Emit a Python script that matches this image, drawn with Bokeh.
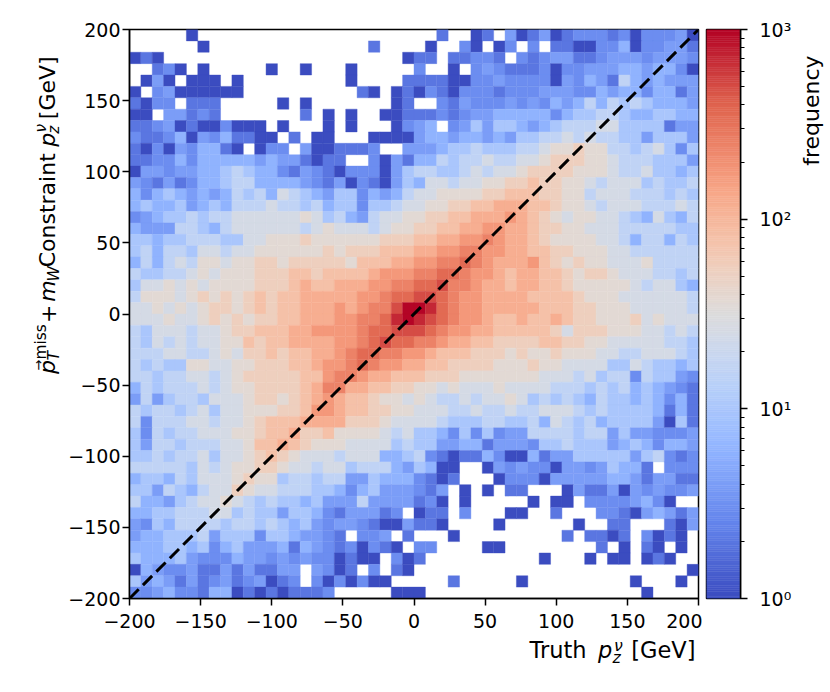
import math
from bokeh.plotting import figure
from bokeh.models import Range1d, FixedTicker, Label, ColumnDataSource, LogColorMapper
from bokeh.layouts import row, column
from bokeh.embed import file_html
from bokeh.resources import INLINE

# ---------------- data ----------------
x_edges = list(range(-200, 201, 8))          # 50 bins of 8 GeV
y_edges = list(range(-200, 201, 8))
tick_vals = [-200, -150, -100, -50, 0, 50, 100, 150, 200]
tick_labels = ["\u2212200", "\u2212150", "\u2212100", "\u221250", "0", "50", "100", "150", "200"]
cbar_ticks = [1, 10, 100, 1000]
cbar_labels = ["10\u2070", "10\u00b9", "10\u00b2", "10\u00b3"]
cbar_minor = [2, 3, 4, 5, 6, 7, 8, 9, 20, 30, 40, 50, 60, 70, 80, 90,
              200, 300, 400, 500, 600, 700, 800, 900]
diag_x = [-200, 200]
diag_y = [-200, 200]

# cell code -> bin count ('.' = empty bin)
level_chars = ".12345abcdefghijklm"
level_counts = [0, 1, 2, 3, 4, 6, 10, 16, 25, 37, 55, 80, 120, 175, 250, 360, 500, 720, 1000]

# rows from top (y = 192..200) to bottom (y = -200..-192), columns from x = -200
hist_rows = [
    ".....1..........." "..........2..12.4" "1241233323133341",
    "......1.........." "....2....1..31.13" ".3.2211335133442",
    "121.............." ".......122.22332." "3234422344434443",
    "..231.1.....1..1." "..1.....3..1.3432" "2231334445545531",
    ".141.111.1......." "..1....2222113343" "333143542b545444",
    "1.34111111......." "...21.12132133323" "3344433545535524",
    "2133.222.....1.1." "......12..3243334" "343545b5baba5554",
    "11.44232.......2." "1.1..112223234455" "55535aabba55aa55",
    "223412113111.1..." "1.1...1345.34a4aa" "545abbbccaaaa244",
    "3223514352211.2.1" "1...1111455455454" "aabbcbcbbaa4aaa4",
    "2131435521.133.41" "12223..4445aabaaa" "bbcddeddbbabca3a",
    "22335355555454421" "22..314255babbcbb" "ccdeeeddcbbbaaa4",
    "14434455aba553243" "2133314abbaabcbcc" "deeeedddcbbcaa5a",
    "43242355abb555543" "2413214a5ccbccdde" "efeeddcbcccabaab",
    "535a54545bab5cba5" "4aa3545bccddddeef" "ffeeddbcccbbbaba",
    "5a55a45a5bbbcbbab" "5aa3aabccddeeffgg" "gffeddcbcccbbbcb",
    "345aababbccccccdc" "ab54bccddeeffgggh" "gfedcddccba5ca5b",
    "5444bba5bccccccbc" "dcccbcddeeffgghhg" "gfeeddcccbbbbbaa",
    "aa5aabbbaaccddded" "dddddeeeffgghhihg" "gfeddddccb5bb5ba",
    "ab5bbaccbccdddddd" "edeeefffgghhiihhg" "gffeedddccbbbbbb",
    "5b5bcbddcddeedeee" "eedfffgghhiijihgg" "ghfededdcccdbbbb",
    "baabbcdcdddeeeffe" "ffffghhhiijjihhgf" "ggffedeedcccbbab",
    "accdcdcddddeeefgf" "fggghhiijjkiihggf" "ggffedddddcbcca5",
    "bdddcdededefeffgg" "ggghhijjkkjihhggg" "gffffedddccccccb",
    "ccdcdcdeedefeffgg" "ghghiikmmljihhggg" "ggfffeedddcccccb",
    "cccdccdededeeffgg" "ghhiijlmlkjihhgff" "gffgfeedddecdccc",
    "bacccbccdeefffggh" "hhhijjkkkjihhggff" "fffeceeedddccbcb",
    "bacbcbccddfeffggg" "ghhijkjjiihggffee" "eeffeeddcccccbba",
    "bbbccbbcdceefeffg" "ghijjiihhgfffeeed" "eddedddccbbcccba",
    "babaaddccddeeeffg" "hhijihhggffeeeedd" "deddccccaacbaa5a",
    "bbabbccbcdeeeeeff" "hiihggfffeeeddddd" "ddcccbcabb3baa43",
    "5babbbcbcddeeeefg" "iiggffeeddcdcccdc" "cccbbbabab5a5432",
    "4b4abbacccdeedefg" "hgffeddcdcbbcbccd" "cababa5baa5a5352",
    "babbabcaccdddeefh" "hgffeeddcccbbcbbc" "bbcccbabaaaa5252",
    "b3bbbccbccdefffgg" "ggeeedccccbaaabba" "ab5cbab5aaaa41a2",
    "a3babbcccddeffgee" "fddddcbcaa53a3a34" "4bbbbabb4a443334",
    "a4bbabbbccdffgfed" "ddccccabaa4455244" "43aabaaa45a53554",
    "aababbcaccdefedcc" "cbccc55ab32122531" "15244aaaaa4ab323",
    "bbbbbacbcddeedccb" "ccabbb54a511..143" "43314434a552.333",
    "5aa5bacccdeddabba" "bb44a5553212...13" "3314444455424422",
    "aa4ba5bccedccbbba" "a535a444324.1.1.2" "2...142241434334",
    "b554abccdcbabaa5a" "444b4444231.1...." ".1.11.33334531..",
    "55aabbbccabaa4aa5" "3244423.122.3...1" "1..2...332145424",
    "43a5bbbbabbaba5a4" "34432114221....1." ".....1..22...214",
    "455aaab4aaa3aa544" "32.334.2...1....." "....2.2212.3121.",
    "555aa5a35a4445254" "3231321.33....11." ".......2.1.21.1.",
    "a555a433354434343" "31211.312........" "..1...1.11.121..",
    "154334224242244.4" "312.3.21........." "...............1",
    "a45424234234123.3" "131311.....2....." "1.........1...1.",
    "33453325512121222" "3.....111........" "...........1....",
]

# ---------------- colormap (coolwarm) ----------------
anchors = [(0.0, "#3b4cc0"), (0.125, "#6282ea"), (0.1429, "#6788ee"), (0.25, "#8db0fe"),
           (0.2857, "#9abbff"), (0.375, "#b8d0f9"), (0.4286, "#c9d7f0"), (0.5, "#dddcdc"),
           (0.5714, "#edd1c2"), (0.625, "#f5c4ac"), (0.7143, "#f7a889"), (0.75, "#f4987a"),
           (0.8571, "#e26952"), (0.875, "#de604d"), (1.0, "#b40426")]


def _rgb(h):
    return [int(h[i:i + 2], 16) for i in (1, 3, 5)]


palette = []
for k in range(256):
    t = k / 255.0
    for (t0, c0), (t1, c1) in zip(anchors[:-1], anchors[1:]):
        if t0 <= t <= t1:
            f = (t - t0) / (t1 - t0) if t1 > t0 else 0.0
            a, b = _rgb(c0), _rgb(c1)
            palette.append("#%02x%02x%02x" % tuple(int(round(a[m] + (b[m] - a[m]) * f)) for m in range(3)))
            break

mapper = LogColorMapper(palette=palette, low=1, high=1000)

# ---------------- histogram cells ----------------
nb = len(x_edges) - 1
L, R, B, T, C = [], [], [], [], []
for j, rs in enumerate(hist_rows):
    rs = (rs + "." * nb)[:nb]
    for i, ch in enumerate(rs):
        c = level_counts[level_chars.index(ch)] if ch in level_chars else 0
        if c > 0:
            L.append(x_edges[i]); R.append(x_edges[i + 1])
            T.append(y_edges[nb - j]); B.append(y_edges[nb - j - 1])
            C.append(c)
src = ColumnDataSource(dict(left=L, right=R, bottom=B, top=T, count=C))

FONT = "DejaVu Sans"
TOP_H = 636          # height of the upper row (page px)
SHIFT = 0.4          # label anchor sits this many em above the text baseline
YLAB_W = 65


def plain_fig(x0, x1, y0, y1):
    """A figure whose frame is the whole canvas, with data units = page pixels."""
    f = figure(width=int(x1 - x0), height=int(y1 - y0),
               x_range=Range1d(x0, x1), y_range=Range1d(y1, y0),
               x_axis_location=None, y_axis_location=None,
               output_backend="svg", toolbar_location=None, min_border=0)
    f.grid.visible = False
    f.outline_line_color = None
    f.background_fill_color = "white"
    f.border_fill_color = "white"
    return f


def lab(fig, x, y, text, size, italic=False, vertical=False, align="left"):
    """x, y: page position of the start (or end) of the text baseline."""
    if vertical:
        x = x - SHIFT * size
        angle = math.pi / 2
    else:
        y = y - SHIFT * size
        angle = 0.0
    fig.add_layout(Label(x=x, y=y, text=text, text_font=FONT, text_font_size="%gpx" % size,
                         text_font_style="italic" if italic else "normal",
                         text_color="black", angle=angle, text_align=align,
                         text_baseline="alphabetic"))


# ---------------- main figure ----------------
p = figure(frame_width=569, frame_height=569,
           x_range=Range1d(-200, 200), y_range=Range1d(-200, 200),
           output_backend="svg", toolbar_location=None,
           min_border_left=127 - YLAB_W, min_border_right=4, min_border_top=29,
           min_border_bottom=TOP_H - 29 - 569)
p.grid.visible = False
p.background_fill_color = "white"
p.border_fill_color = "white"
p.outline_line_color = "black"
p.outline_line_width = 1.5

p.quad(left="left", right="right", bottom="bottom", top="top", source=src,
       fill_color={"field": "count", "transform": mapper},
       line_color={"field": "count", "transform": mapper}, line_width=0.4)
p.line(diag_x, diag_y, line_color="black", line_width=3, line_dash="13 6")

overrides = {v: s for v, s in zip(tick_vals, tick_labels)}
for ax in (p.xaxis[0], p.yaxis[0]):
    ax.ticker = FixedTicker(ticks=tick_vals, minor_ticks=[])
    ax.major_label_overrides = overrides
    ax.major_tick_out = 7
    ax.major_tick_in = 0
    ax.minor_tick_out = 0
    ax.minor_tick_in = 0
    ax.major_tick_line_width = 1.5
    ax.major_tick_line_color = "black"
    ax.axis_line_width = 1.5
    ax.axis_line_color = "black"
    ax.major_label_text_font = FONT
    ax.major_label_text_font_size = "19px"
    ax.major_label_text_color = "black"
p.xaxis.major_label_standoff = 8
p.yaxis.major_label_standoff = 2

# ---------------- y label (rotated, reading upwards) ----------------
ylab = plain_fig(0, YLAB_W, 0, TOP_H)
BX = 56.0
VS, VSS = 22, 15.4
lab(ylab, BX, 385.0, "p", VS, True, True)
lab(ylab, BX - 12.5, 381.4, "\u2192", 13, False, True)
lab(ylab, BX - 9.2, 368.9, "miss", VSS, False, True)
lab(ylab, BX + 4, 370.0, "T", VSS, True, True)
lab(ylab, BX, 328.0, "+", VS, False, True)
lab(ylab, BX, 304.2, "m", VS, True, True)
lab(ylab, BX + 4, 281.8, "W", VSS, True, True)
lab(ylab, BX, 138.3, "Constraint", VS, False, True, "right")
lab(ylab, BX, 131.0, "p", VS, True, True)
lab(ylab, BX - 9.2, 115.0, "\u03bd", VSS, True, True)
lab(ylab, BX + 4, 116.5, "z", VSS, True, True)
lab(ylab, BX, 30.0, "[GeV]", VS, False, True, "right")

# ---------------- colour bar ----------------
cb = figure(frame_width=34, frame_height=569, x_range=Range1d(0, 1), y_range=Range1d(1, 1000),
            y_axis_type="log", y_axis_location="right", x_axis_location=None,
            output_backend="svg", toolbar_location=None,
            min_border_left=4, min_border_right=56, min_border_top=29,
            min_border_bottom=TOP_H - 29 - 569)
cb.grid.visible = False
cb.background_fill_color = "white"
cb.border_fill_color = "white"
cb.outline_line_color = "black"
cb.outline_line_width = 1.5
nseg = len(palette)
cb.quad(left=[0] * nseg, right=[1] * nseg,
        bottom=[10 ** (3.0 * k / nseg) for k in range(nseg)],
        top=[10 ** (3.0 * (k + 1) / nseg) for k in range(nseg)],
        fill_color=palette, line_color=palette, line_width=0.5)
ya = cb.yaxis[0]
ya.ticker = FixedTicker(ticks=cbar_ticks, minor_ticks=cbar_minor)
ya.major_label_overrides = {v: s for v, s in zip(cbar_ticks, cbar_labels)}
ya.major_tick_out = 7
ya.major_tick_in = 0
ya.minor_tick_out = 4
ya.minor_tick_in = 0
ya.major_tick_line_width = 1.5
ya.minor_tick_line_width = 1.2
ya.major_tick_line_color = "black"
ya.minor_tick_line_color = "black"
ya.axis_line_width = 1.5
ya.axis_line_color = "black"
ya.major_label_text_font = FONT
ya.major_label_text_font_size = "19px"
ya.major_label_text_color = "black"
ya.major_label_standoff = 12

# ---------------- colour bar label ----------------
freq = plain_fig(794, 828, 0, TOP_H)
lab(freq, 818.0, 29.0, "frequency", 22, False, True, "right")

# ---------------- x label ----------------
xlab = plain_fig(0, 828, TOP_H, 690)
BY = 658.0
lab(xlab, 529.0, BY, "Truth", 22.5)
lab(xlab, 597.5, BY, "p", 22.5, True)
lab(xlab, 613.5, BY - 6.5, "\u03bd", 15.75, True)
lab(xlab, 612.0, BY + 5, "z", 15.75, True)
lab(xlab, 630.8, BY, "[GeV]", 22.5)

layout = column(row(ylab, p, cb, freq), xlab)
open("out.html", "w").write(file_html(layout, INLINE))
